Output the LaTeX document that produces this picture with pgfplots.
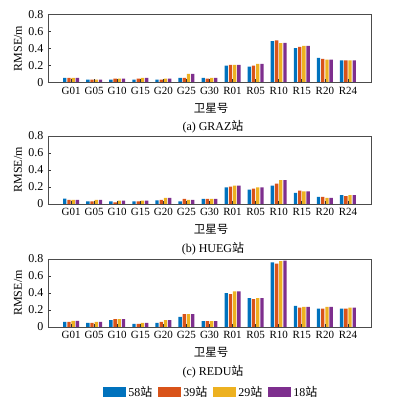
\documentclass[border=0pt]{standalone}
\usepackage{fontspec}
\setmainfont{Liberation Serif}
\newfontfamily\cjk{Noto Sans CJK SC}
\usepackage{pgfplots}
\usepackage{pgfplotstable}
\pgfplotsset{compat=1.18}
\definecolor{c1}{RGB}{0,114,189}
\definecolor{c2}{RGB}{217,83,25}
\definecolor{c3}{RGB}{237,177,32}
\definecolor{c4}{RGB}{126,47,142}

\pgfplotstableread{
x b r y p
1 0.055 0.055 0.055 0.055
2 0.035 0.035 0.035 0.035
3 0.035 0.045 0.045 0.045
4 0.035 0.045 0.055 0.055
5 0.035 0.035 0.045 0.045
6 0.055 0.055 0.100 0.100
7 0.055 0.045 0.055 0.055
8 0.198 0.206 0.206 0.206
9 0.186 0.198 0.218 0.218
10 0.487 0.495 0.463 0.467
11 0.404 0.420 0.430 0.430
12 0.289 0.277 0.270 0.270
13 0.261 0.261 0.261 0.261
}\graz
\pgfplotstableread{
x b r y p
1 0.064 0.048 0.048 0.048
2 0.032 0.032 0.048 0.048
3 0.032 0.020 0.040 0.040
4 0.032 0.032 0.040 0.040
5 0.044 0.048 0.072 0.072
6 0.032 0.060 0.048 0.048
7 0.060 0.060 0.060 0.060
8 0.196 0.204 0.216 0.216
9 0.168 0.180 0.196 0.196
10 0.216 0.240 0.280 0.280
11 0.132 0.156 0.148 0.148
12 0.084 0.084 0.072 0.072
13 0.104 0.092 0.104 0.104
}\hueg
\pgfplotstableread{
x b r y p
1 0.060 0.060 0.072 0.072
2 0.048 0.048 0.060 0.060
3 0.080 0.092 0.092 0.092
4 0.036 0.036 0.048 0.048
5 0.048 0.060 0.080 0.080
6 0.120 0.152 0.152 0.152
7 0.068 0.068 0.068 0.068
8 0.400 0.388 0.420 0.420
9 0.340 0.328 0.340 0.340
10 0.760 0.745 0.775 0.780
11 0.248 0.228 0.236 0.236
12 0.216 0.216 0.236 0.236
13 0.216 0.216 0.228 0.228
}\redu

\pgfplotsset{
  mybar/.style={
    scale only axis, width=323pt, height=68pt,
    anchor=south west,
    xmin=0, xmax=14, ymin=0, ymax=0.8,
    xtick={1,...,13},
    xticklabels={G01,G05,G10,G15,G20,G25,G30,R01,R05,R10,R15,R20,R24},
    ytick={0,0.2,0.4,0.6,0.8},
    yticklabels={0,0.2,0.4,0.6,0.8},
    ybar, bar width=0.145,
    tick align=inside, xtick pos=bottom, ytick pos=left,
    major tick length=3pt,
    tick style={black!80, line width=0.6pt},
    axis line style={black!70, line width=0.6pt},
    axis on top,
    /pgf/number format/assume math mode=true,
    xticklabel style={font=\fontsize{11}{11}\selectfont, yshift=-1pt},
    yticklabel style={font=\fontsize{12}{12}\selectfont, xshift=-1pt},
    legend image code/.code={\fill[##1] (0pt,-5pt) rectangle (23pt,5pt);},
  },
  s1/.style={fill=c1, draw=none, bar shift=-0.273},
  s2/.style={fill=c2, draw=none, bar shift=-0.091},
  s3/.style={fill=c3, draw=none, bar shift=0.091},
  s4/.style={fill=c4, draw=none, bar shift=0.273},
}

\begin{document}
\begin{tikzpicture}
\useasboundingbox (0,0) rectangle (393pt,405pt);

\begin{axis}[mybar, at={(48pt,322.5pt)}]
\addplot[s1] table[x=x,y=b] {\graz};
\addplot[s2] table[x=x,y=r] {\graz};
\addplot[s3] table[x=x,y=y] {\graz};
\addplot[s4] table[x=x,y=p] {\graz};
\end{axis}

\begin{axis}[mybar, at={(48pt,201pt)}]
\addplot[s1] table[x=x,y=b] {\hueg};
\addplot[s2] table[x=x,y=r] {\hueg};
\addplot[s3] table[x=x,y=y] {\hueg};
\addplot[s4] table[x=x,y=p] {\hueg};
\end{axis}

\begin{axis}[mybar, at={(48pt,78pt)},
  legend columns=4,
  legend style={at={(0.506,-0.956)}, anchor=center, draw=none, fill=none,
    font=\fontsize{12}{12}\selectfont,
    /tikz/every even column/.append style={column sep=4pt},
    /tikz/every odd column/.append style={column sep=0pt},
    inner sep=0pt},
  ]
\addplot[s1] table[x=x,y=b] {\redu};
\addplot[s2] table[x=x,y=r] {\redu};
\addplot[s3] table[x=x,y=y] {\redu};
\addplot[s4] table[x=x,y=p] {\redu};
\addlegendentry{58{\cjk 站}}
\addlegendentry{39{\cjk 站}}
\addlegendentry{29{\cjk 站}}
\addlegendentry{18{\cjk 站}}
\end{axis}

% axis titles and captions
\foreach \yb/\cap in {322.5/{(a) GRAZ},201/{(b) HUEG},78/{(c) REDU}}{
  \node[rotate=90, font=\fontsize{12}{12}\selectfont] at (18pt,\yb pt+34pt) {RMSE/m};
  \node[font=\fontsize{11.5}{11.5}\cjk] at (211pt,\yb pt-25.5pt) {卫星号};
  \node[font=\fontsize{12}{12}\selectfont] at (213pt,\yb pt-44.5pt) {\cap{\cjk 站}};
}
\end{tikzpicture}
\end{document}
